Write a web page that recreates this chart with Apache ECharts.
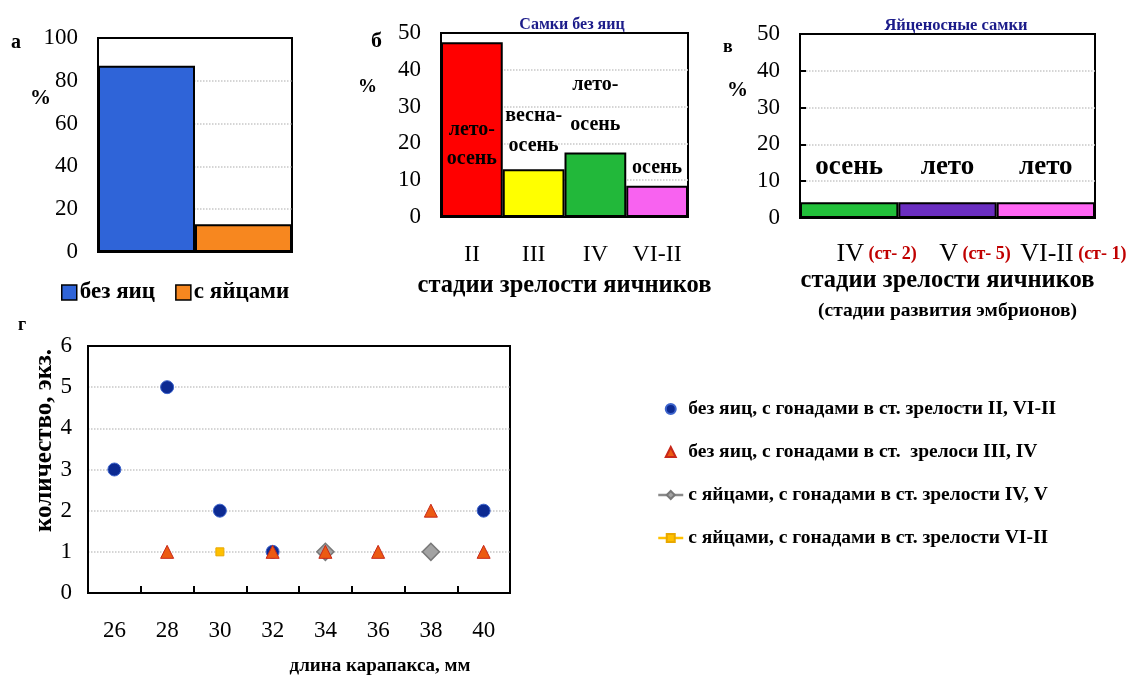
<!DOCTYPE html>
<html><head><meta charset="utf-8">
<script src="https://cdn.jsdelivr.net/npm/echarts@6/dist/echarts.min.js"></script>
<style>html,body{margin:0;padding:0;background:#fff}#c{width:1130px;height:677px}</style>
</head><body><div id="c"></div>
<script>
// ---- data ----
const aCats = [''];
const aNoEggs = [87];
const aWithEggs = [13];

const bCats = ['II', 'III', 'IV', 'VI-II'];
const bValues = [47.5, 13, 17.5, 8.5];
const bSeasons = ['лето-\nосень', 'весна-\nосень', 'лето-\nосень', 'осень'];

const cCats = ['IV', 'V', 'VI-II'];
const cStages = ['(ст- 2)', '(ст- 5)', '(ст- 1)'];
const cValues = [4.3, 4.3, 4.3];
const cSeasons = ['осень', 'лето', 'лето'];

const dCats = ['26', '28', '30', '32', '34', '36', '38', '40'];
const dBlue = [3, 5, 2, 1, null, null, null, 2];
const dOrange = [null, 1, null, 1, 1, 1, 2, 1];
const dGray = [null, null, null, null, 1, null, 1, null];
const dYellow = [null, null, 1, null, null, null, null, null];
const dNames = [
  'без яиц, с гонадами в ст. зрелости II, VI-II',
  'без яиц, с гонадами в ст.  зрелоси III, IV',
  'с яйцами, с гонадами в ст. зрелости IV, V',
  'с яйцами, с гонадами в ст. зрелости VI-II'
];

// ---- styles ----
const F = 'Liberation Serif, Times New Roman, DejaVu Serif, serif';
const tickLab = {fontFamily: F, fontSize: 23, color: '#000'};
const split = {show: true, lineStyle: {color: '#c8c8c8', type: 'dotted', width: 1.5}};
const bColors = ['#ff0000', '#ffff00', '#22b83a', '#f862f0'];
const cColors = ['#22c03a', '#6a2ec0', '#ff66f4'];
const axLine = {show: true, lineStyle: {color: '#000', width: 2}};
const topAxis = (g, data) => ({gridIndex: g, type: 'category', data: data, position: 'top',
  axisLine: axLine, axisTick: {show: false}, axisLabel: {show: false}, splitLine: {show: false}});

const chart = echarts.init(document.getElementById('c'), null, {renderer: 'canvas'});
chart.setOption({
  animation: false,
  backgroundColor: '#fff',
  textStyle: {fontFamily: F},
  title: [
    {text: 'Самки без яиц', left: 567, top: 12, textAlign: 'center',
     textStyle: {fontFamily: F, fontSize: 16, fontWeight: 'bold', color: '#1c1c8a'}},
    {text: 'Яйценосные самки', left: 951, top: 12, textAlign: 'center',
     textStyle: {fontFamily: F, fontSize: 16.5, fontWeight: 'bold', color: '#1c1c8a'}}
  ],
  grid: [
    {left: 98, top: 38, width: 194, height: 214, show: true, borderColor: '#000', borderWidth: 2},
    {left: 441, top: 33, width: 247, height: 184, show: true, borderColor: '#000', borderWidth: 2},
    {left: 800, top: 34, width: 295, height: 184, show: true, borderColor: '#000', borderWidth: 2},
    {left: 88, top: 346, width: 422, height: 249, show: true, borderColor: '#000', borderWidth: 2}
  ],
  xAxis: [
    {gridIndex: 0, type: 'category', data: aCats, axisLine: axLine,
     axisTick: {show: false}, axisLabel: {show: false}},
    {gridIndex: 1, type: 'category', data: bCats, axisLine: axLine,
     axisTick: {show: false}, axisLabel: Object.assign({margin: 26, interval: 0}, tickLab, {fontSize: 24}),
     name: 'стадии зрелости яичников', nameLocation: 'middle', nameGap: 56,
     nameTextStyle: {fontFamily: F, fontSize: 24.5, fontWeight: 'bold', color: '#000'}},
    {gridIndex: 2, type: 'category', data: cCats, axisLine: axLine,
     axisTick: {show: false},
     axisLabel: {margin: 23, interval: 0, hideOverlap: false, padding: [0, 0, 0, 55],
       formatter: (v, i) => '{n|' + v + '}{s| ' + cStages[i] + '}',
       rich: {n: {fontFamily: F, fontSize: 26, color: '#000'},
              s: {fontFamily: F, fontSize: 18, fontWeight: 'bold', color: '#c00000'}}},
     name: '{t|стадии зрелости яичников}\n{u|(стадии развития эмбрионов)}', nameLocation: 'middle', nameGap: 46,
     nameTextStyle: {verticalAlign: 'top', rich: {
       t: {fontFamily: F, fontSize: 24.5, fontWeight: 'bold', color: '#000', lineHeight: 32},
       u: {fontFamily: F, fontSize: 19.5, fontWeight: 'bold', color: '#000', lineHeight: 30}}}},
    {gridIndex: 3, type: 'category', data: dCats, boundaryGap: true,
     axisLine: axLine,
     axisTick: {show: true, inside: true, length: 7, lineStyle: {color: '#000', width: 2}},
     axisLabel: Object.assign({margin: 26}, tickLab),
     name: 'длина карапакса, мм', nameLocation: 'middle', nameGap: 64,
     nameTextStyle: {fontFamily: F, fontSize: 19, fontWeight: 'bold', color: '#000', padding: [0, 0, 0, 162]}},
    topAxis(0, aCats), topAxis(1, bCats), topAxis(2, cCats), topAxis(3, dCats)
  ],
  yAxis: [
    {gridIndex: 0, type: 'value', min: 0, max: 100, interval: 20,
     axisLine: axLine,
     axisTick: {show: true, inside: true, length: 6, lineStyle: {color: '#000', width: 2}},
     axisLabel: Object.assign({margin: 20}, tickLab), splitLine: split},
    {gridIndex: 1, type: 'value', min: 0, max: 50, interval: 10,
     axisLine: axLine,
     axisTick: {show: true, inside: true, length: 6, lineStyle: {color: '#000', width: 2}},
     axisLabel: Object.assign({margin: 20}, tickLab), splitLine: split},
    {gridIndex: 2, type: 'value', min: 0, max: 50, interval: 10,
     axisLine: axLine,
     axisTick: {show: true, inside: true, length: 6, lineStyle: {color: '#000', width: 2}},
     axisLabel: Object.assign({margin: 20}, tickLab), splitLine: split},
    {gridIndex: 3, type: 'value', min: 0, max: 6, interval: 1,
     axisLine: axLine,
     axisTick: {show: false},
     axisLabel: Object.assign({margin: 16}, tickLab), splitLine: split,
     name: 'количество, экз.', nameLocation: 'middle', nameGap: 28, nameRotate: 90,
     nameTextStyle: {fontFamily: F, fontSize: 25, fontWeight: 'bold', color: '#000', padding: [0, 0, 0, 58]}}
  ],
  legend: [
    {left: 56, top: 276, itemWidth: 15, itemHeight: 15, itemGap: 20, icon: 'rect',
     data: ['без яиц', 'с яйцами'],
     itemStyle: {borderColor: '#000', borderWidth: 1.5},
     textStyle: {fontFamily: F, fontSize: 23, fontWeight: 'bold', color: '#000', padding: [0, 0, 0, -2]}},
    {left: 652, top: 394, orient: 'vertical', itemWidth: 25, itemHeight: 10, itemGap: 23,
     data: [
       {name: dNames[0], icon: 'circle'},
       {name: dNames[1], icon: 'path://M0,10 L5,0 L10,10 Z'},
       {name: dNames[2], lineStyle: {width: 2.5, opacity: 1, color: '#8a8a8a', type: 'solid'}},
       {name: dNames[3], lineStyle: {width: 2.5, opacity: 1, color: '#ffc000', type: 'solid'}}
     ],
     textStyle: {fontFamily: F, fontSize: 19.5, fontWeight: 'bold', color: '#000'}}
  ],
  series: [
    {name: 'без яиц', type: 'bar', xAxisIndex: 0, yAxisIndex: 0, data: aNoEggs,
     barGap: '0%', barCategoryGap: '0%',
     itemStyle: {color: '#2f64d8', borderColor: '#000', borderWidth: 2}},
    {name: 'с яйцами', type: 'bar', xAxisIndex: 0, yAxisIndex: 0, data: aWithEggs,
     barGap: '0%', barCategoryGap: '0%',
     itemStyle: {color: '#f7871f', borderColor: '#000', borderWidth: 2}},
    {name: 'b', type: 'bar', xAxisIndex: 1, yAxisIndex: 1, barCategoryGap: '0%',
     data: bValues.map((v, i) => ({
       value: v, itemStyle: {color: bColors[i]},
       label: [
         {position: 'inside', offset: [0, 15], lineHeight: 29},
         {position: 'top', distance: 8, lineHeight: 30},
         {position: 'top', distance: 8, lineHeight: 40},
         {position: 'top', distance: 6, lineHeight: 24}
       ][i]
     })),
     itemStyle: {borderColor: '#000', borderWidth: 2},
     label: {show: true, fontFamily: F, fontSize: 20, fontWeight: 'bold', color: '#000',
       formatter: p => bSeasons[p.dataIndex]}},
    {name: 'c', type: 'bar', xAxisIndex: 2, yAxisIndex: 2, barCategoryGap: '0%',
     data: cValues.map((v, i) => ({value: v, itemStyle: {color: cColors[i]}})),
     itemStyle: {borderColor: '#000', borderWidth: 2},
     label: {show: true, position: 'top', distance: 22, fontFamily: F, fontSize: 27, fontWeight: 'bold', color: '#000',
       formatter: p => cSeasons[p.dataIndex]}},
    {name: dNames[0], type: 'scatter', xAxisIndex: 3, yAxisIndex: 3, data: dBlue, symbol: 'circle', symbolSize: 13, z: 2,
     itemStyle: {color: '#0c2a92', borderColor: '#3d64cc', borderWidth: 1, opacity: 1}},
    {name: dNames[2], type: 'line', xAxisIndex: 3, yAxisIndex: 3, data: dGray, symbol: 'diamond', symbolSize: 17, z: 3,
     lineStyle: {width: 0, opacity: 0},
     itemStyle: {color: '#a3a3a3', borderColor: '#787878', borderWidth: 1.5, opacity: 1}},
    {name: dNames[3], type: 'line', xAxisIndex: 3, yAxisIndex: 3, data: dYellow, symbol: 'rect', symbolSize: 8, z: 3,
     lineStyle: {width: 0, opacity: 0},
     itemStyle: {color: '#ffc000', borderColor: '#e8a800', borderWidth: 1, opacity: 1}},
    {name: dNames[1], type: 'scatter', xAxisIndex: 3, yAxisIndex: 3, data: dOrange, symbol: 'triangle', symbolSize: 13, z: 4,
     itemStyle: {color: '#ec5a12', borderColor: '#c8281a', borderWidth: 1, opacity: 1}}
  ],
  graphic: [
    {type: 'text', left: 11, top: 33, style: {text: 'а', fontFamily: F, fontSize: 20, fontWeight: 'bold', fill: '#000'}},
    {type: 'text', left: 30, top: 88, style: {text: '%', fontFamily: F, fontSize: 21, fontWeight: 'bold', fill: '#000'}},
    {type: 'text', left: 371, top: 30, style: {text: 'б', fontFamily: F, fontSize: 22, fontWeight: 'bold', fill: '#000'}},
    {type: 'text', left: 358, top: 78, style: {text: '%', fontFamily: F, fontSize: 19, fontWeight: 'bold', fill: '#000'}},
    {type: 'text', left: 723, top: 38, style: {text: 'в', fontFamily: F, fontSize: 18, fontWeight: 'bold', fill: '#000'}},
    {type: 'text', left: 727, top: 80, style: {text: '%', fontFamily: F, fontSize: 21, fontWeight: 'bold', fill: '#000'}},
    {type: 'text', left: 18, top: 316, style: {text: 'г', fontFamily: F, fontSize: 18, fontWeight: 'bold', fill: '#000'}}
  ]
});
</script></body></html>
